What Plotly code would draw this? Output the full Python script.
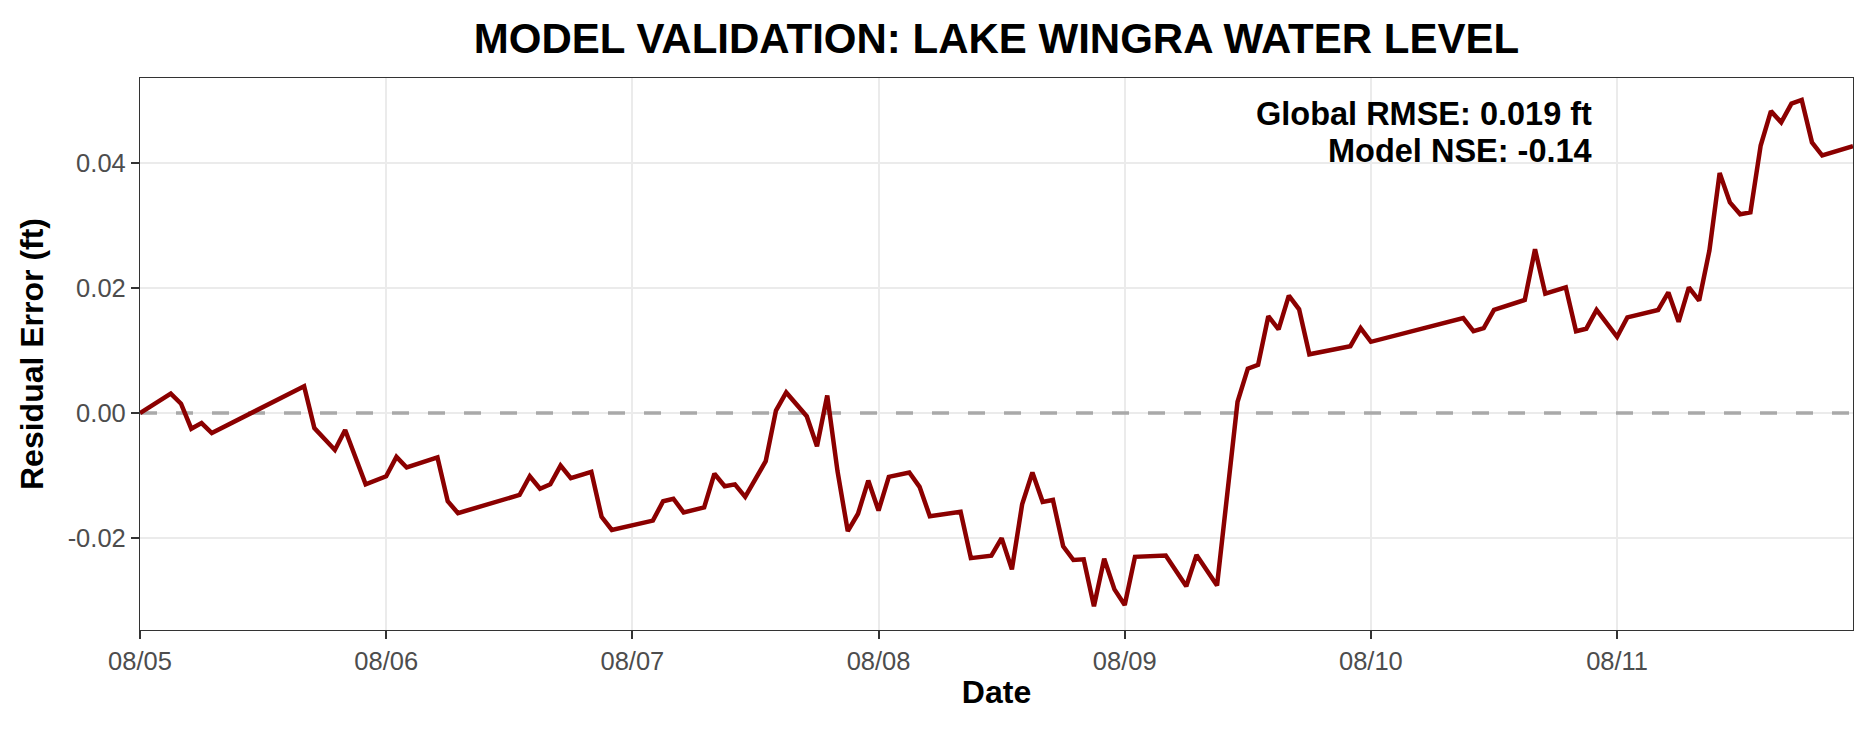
import pandas as pd
import plotly.graph_objects as go

# hours after 2024-08-05 00:00 and residual error (ft)
hours = [0, 3, 4, 5, 6, 7, 16, 17, 19, 20, 22, 24, 25, 26, 29, 30, 31, 37, 38, 39,
         40, 41, 42, 44, 45, 46, 50, 51, 52, 53, 55, 56, 57, 58, 59, 61, 62, 63, 65, 66,
         67, 68, 69, 70, 71, 72, 73, 75, 76, 77, 80, 81, 83, 84, 85, 86, 87, 88, 89, 90,
         91, 92, 93, 94, 95, 96, 97, 100, 102, 103, 105, 107, 108, 109, 110, 111, 112, 113, 114, 118,
         119, 120, 129, 130, 131, 132, 135, 136, 137, 139, 140, 141, 142, 144, 145, 148, 149, 150, 151, 152,
         153, 154, 155, 156, 157, 158, 159, 160, 161, 162, 163, 164, 167]
residual = [0.0000, 0.0031, 0.0015, -0.0025, -0.0016, -0.0032, 0.0043, -0.0024, -0.0059, -0.0027,
            -0.0114, -0.0101, -0.0070, -0.0087, -0.0071, -0.0141, -0.0160, -0.0131, -0.0101, -0.0121,
            -0.0114, -0.0084, -0.0104, -0.0094, -0.0166, -0.0187, -0.0172, -0.0141, -0.0137, -0.0159,
            -0.0151, -0.0097, -0.0117, -0.0114, -0.0134, -0.0077, 0.0004, 0.0033, -0.0005, -0.0053,
            0.0028, -0.0093, -0.0189, -0.0161, -0.0108, -0.0156, -0.0102, -0.0095, -0.0118, -0.0165,
            -0.0158, -0.0232, -0.0228, -0.0200, -0.0250, -0.0146, -0.0095, -0.0142, -0.0139, -0.0213,
            -0.0235, -0.0234, -0.0309, -0.0233, -0.0282, -0.0307, -0.0230, -0.0228, -0.0277, -0.0227,
            -0.0276, 0.0018, 0.0071, 0.0077, 0.0155, 0.0134, 0.0188, 0.0166, 0.0094, 0.0107,
            0.0136, 0.0114, 0.0152, 0.0131, 0.0136, 0.0165, 0.0181, 0.0262, 0.0191, 0.0201,
            0.0131, 0.0135, 0.0165, 0.0122, 0.0153, 0.0165, 0.0193, 0.0146, 0.0201, 0.0180,
            0.0260, 0.0384, 0.0337, 0.0318, 0.0321, 0.0428, 0.0483, 0.0465, 0.0495, 0.0501,
            0.0433, 0.0412, 0.0427]

y_tick_vals = [-0.02, 0.0, 0.02, 0.04]
y_tick_text = ["-0.02", "0.00", "0.02", "0.04"]

rmse = 0.019
nse = -0.14

start = pd.Timestamp("2024-08-05 00:00")
end = start + pd.Timedelta(hours=167)
times = [start + pd.Timedelta(hours=h) for h in hours]

fig = go.Figure()
# dashed zero reference line
fig.add_trace(go.Scatter(x=[start, end], y=[0, 0], mode="lines",
                         line=dict(color="#a9a9a9", width=3.5, dash="17px,19px"),
                         hoverinfo="skip", showlegend=False))
fig.add_trace(go.Scatter(x=times, y=residual, mode="lines",
                         line=dict(color="#8b0000", width=4.5), showlegend=False))

fig.add_annotation(xref="paper", yref="paper", x=0.848, y=0.934,
                   xanchor="right", yanchor="middle", showarrow=False, borderpad=0,
                   text=f"<b>Global RMSE: {rmse:.3f} ft</b>",
                   font=dict(size=32.5, color="black"))
fig.add_annotation(xref="paper", yref="paper", x=0.848, y=0.868,
                   xanchor="right", yanchor="middle", showarrow=False, borderpad=0,
                   text=f"<b>Model NSE: {nse:.2f}</b>",
                   font=dict(size=32.5, color="black"))

# page body adds an 8px margin, so the figure is trimmed by that much
fig.update_layout(
    width=1867, height=721,
    margin=dict(l=132, r=22, t=70, b=99),
    paper_bgcolor="white", plot_bgcolor="white",
    font=dict(family="Liberation Sans, Arial, sans-serif", color="black"),
    title=dict(text="<b>MODEL VALIDATION: LAKE WINGRA WATER LEVEL</b>",
               xref="paper", x=0.5, xanchor="center", y=0.958, yanchor="middle",
               font=dict(size=42, color="black")),
)
fig.update_xaxes(
    range=[start, end],
    tickformat="%m/%d", dtick=86400000, tick0=start,
    showgrid=True, gridcolor="#ebebeb", gridwidth=2,
    showline=True, linecolor="#333333", linewidth=1.3, mirror=True,
    ticks="outside", ticklen=8, tickwidth=2, tickcolor="#333333",
    tickfont=dict(size=25.5, color="#4d4d4d"),
    title=dict(text="<b>Date</b>", font=dict(size=32), standoff=6),
    zeroline=False,
)
fig.update_yaxes(
    range=[-0.0347, 0.0536],
    tickvals=y_tick_vals, ticktext=y_tick_text,
    showgrid=True, gridcolor="#ebebeb", gridwidth=2,
    showline=True, linecolor="#333333", linewidth=1.3, mirror=True,
    ticks="outside", ticklen=8, tickwidth=2, tickcolor="#333333",
    tickfont=dict(size=25.5, color="#4d4d4d"),
    title=dict(text="<b>Residual Error (ft)</b>", font=dict(size=32), standoff=14),
    zeroline=False,
)

fig.write_html("out.html")
